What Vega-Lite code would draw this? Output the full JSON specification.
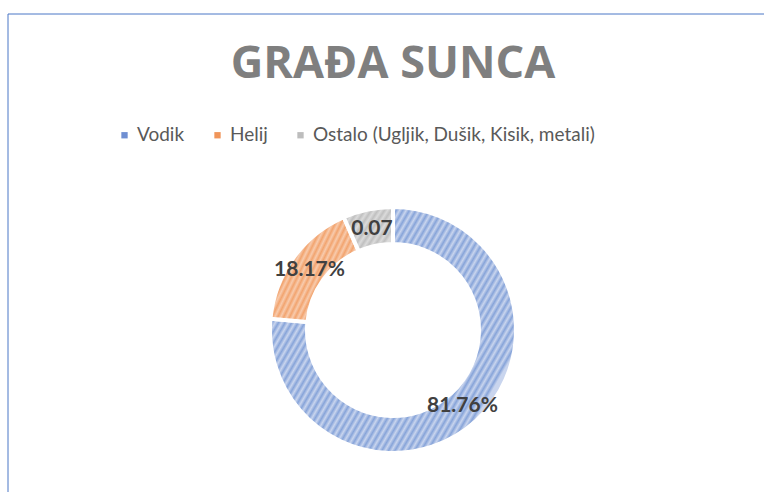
{
  "$schema": "https://vega.github.io/schema/vega-lite/v6.json",
  "width": 771,
  "height": 633,
  "autosize": {"type": "none"},
  "padding": {"left": 7.5, "top": 13.5, "right": -14.5, "bottom": -154.5},
  "background": "white",
  "view": {"stroke": "#4a76c6", "strokeWidth": 1},
  "title": {"text": "GRAĐA SUNCA", "font": "Open Sans", "fontSize": 45, "fontWeight": "bold", "color": "#7f7f7f", "anchor": "middle", "frame": "group", "offset": -66.5, "dy": 43, "baseline": "alphabetic"},
  "data": {"values": [
    {"category": "Vodik", "value": 0.8176, "label": "81.76%"},
    {"category": "Helij", "value": 0.1817, "label": "18.17%"},
    {"category": "Ostalo (Ugljik, Dušik, Kisik, metali)", "value": 0.07, "label": "0.07"}
  ]},
  "encoding": {
    "theta": {"field": "value", "type": "quantitative", "stack": true},
    "order": {"field": "value", "type": "quantitative", "sort": "descending"}
  },
  "layer": [
    {
      "mark": {"type": "arc", "outerRadius": 123, "innerRadius": 86, "stroke": "white", "strokeWidth": 4},
      "encoding": {
        "color": {"field": "category", "type": "nominal",
          "scale": {"domain": ["Vodik", "Helij", "Ostalo (Ugljik, Dušik, Kisik, metali)"], "range": ["#6f8fd2", "#f0955a", "#bdbdbd"]},
          "legend": {"orient": "none", "legendX": 107.5, "legendY": 112, "direction": "horizontal", "title": null, "symbolType": "square", "symbolSize": 40, "symbolStrokeWidth": 0, "labelFont": "Lato", "labelFontSize": 19, "labelColor": "#595959", "labelOffset": 3, "columnPadding": 23, "labelLimit": 0, "padding": 0}
        }
      }
    },
    {
      "mark": {"type": "arc", "outerRadius": 123, "innerRadius": 86, "stroke": "white", "strokeWidth": 4},
      "encoding": {
        "fill": {
          "condition": [
            {"test": "datum.category === 'Vodik'", "value": {"gradient": "linear", "x1": 0, "y1": 0, "x2": 1, "y2": 0.58, "stops": [
              {"offset": 0, "color": "#c9d5ee"}, {"offset": 0.01, "color": "#87a4d9"}, {"offset": 0.02, "color": "#c9d5ee"}, {"offset": 0.03, "color": "#87a4d9"}, {"offset": 0.04, "color": "#c9d5ee"}, {"offset": 0.05, "color": "#87a4d9"}, {"offset": 0.06, "color": "#c9d5ee"}, {"offset": 0.07, "color": "#87a4d9"}, {"offset": 0.08, "color": "#c9d5ee"}, {"offset": 0.09, "color": "#87a4d9"},
              {"offset": 0.1, "color": "#c9d5ee"}, {"offset": 0.11, "color": "#87a4d9"}, {"offset": 0.12, "color": "#c9d5ee"}, {"offset": 0.13, "color": "#87a4d9"}, {"offset": 0.14, "color": "#c9d5ee"}, {"offset": 0.15, "color": "#87a4d9"}, {"offset": 0.16, "color": "#c9d5ee"}, {"offset": 0.17, "color": "#87a4d9"}, {"offset": 0.18, "color": "#c9d5ee"}, {"offset": 0.19, "color": "#87a4d9"},
              {"offset": 0.2, "color": "#c9d5ee"}, {"offset": 0.21, "color": "#87a4d9"}, {"offset": 0.22, "color": "#c9d5ee"}, {"offset": 0.23, "color": "#87a4d9"}, {"offset": 0.24, "color": "#c9d5ee"}, {"offset": 0.25, "color": "#87a4d9"}, {"offset": 0.26, "color": "#c9d5ee"}, {"offset": 0.27, "color": "#87a4d9"}, {"offset": 0.28, "color": "#c9d5ee"}, {"offset": 0.29, "color": "#87a4d9"},
              {"offset": 0.3, "color": "#c9d5ee"}, {"offset": 0.31, "color": "#87a4d9"}, {"offset": 0.32, "color": "#c9d5ee"}, {"offset": 0.33, "color": "#87a4d9"}, {"offset": 0.34, "color": "#c9d5ee"}, {"offset": 0.35, "color": "#87a4d9"}, {"offset": 0.36, "color": "#c9d5ee"}, {"offset": 0.37, "color": "#87a4d9"}, {"offset": 0.38, "color": "#c9d5ee"}, {"offset": 0.39, "color": "#87a4d9"},
              {"offset": 0.4, "color": "#c9d5ee"}, {"offset": 0.41, "color": "#87a4d9"}, {"offset": 0.42, "color": "#c9d5ee"}, {"offset": 0.43, "color": "#87a4d9"}, {"offset": 0.44, "color": "#c9d5ee"}, {"offset": 0.45, "color": "#87a4d9"}, {"offset": 0.46, "color": "#c9d5ee"}, {"offset": 0.47, "color": "#87a4d9"}, {"offset": 0.48, "color": "#c9d5ee"}, {"offset": 0.49, "color": "#87a4d9"},
              {"offset": 0.5, "color": "#c9d5ee"}, {"offset": 0.51, "color": "#87a4d9"}, {"offset": 0.52, "color": "#c9d5ee"}, {"offset": 0.53, "color": "#87a4d9"}, {"offset": 0.54, "color": "#c9d5ee"}, {"offset": 0.55, "color": "#87a4d9"}, {"offset": 0.56, "color": "#c9d5ee"}, {"offset": 0.57, "color": "#87a4d9"}, {"offset": 0.58, "color": "#c9d5ee"}, {"offset": 0.59, "color": "#87a4d9"},
              {"offset": 0.6, "color": "#c9d5ee"}, {"offset": 0.61, "color": "#87a4d9"}, {"offset": 0.62, "color": "#c9d5ee"}, {"offset": 0.63, "color": "#87a4d9"}, {"offset": 0.64, "color": "#c9d5ee"}, {"offset": 0.65, "color": "#87a4d9"}, {"offset": 0.66, "color": "#c9d5ee"}, {"offset": 0.67, "color": "#87a4d9"}, {"offset": 0.68, "color": "#c9d5ee"}, {"offset": 0.69, "color": "#87a4d9"},
              {"offset": 0.7, "color": "#c9d5ee"}, {"offset": 0.71, "color": "#87a4d9"}, {"offset": 0.72, "color": "#c9d5ee"}, {"offset": 0.73, "color": "#87a4d9"}, {"offset": 0.74, "color": "#c9d5ee"}, {"offset": 0.75, "color": "#87a4d9"}, {"offset": 0.76, "color": "#c9d5ee"}, {"offset": 0.77, "color": "#87a4d9"}, {"offset": 0.78, "color": "#c9d5ee"}, {"offset": 0.79, "color": "#87a4d9"},
              {"offset": 0.8, "color": "#c9d5ee"}, {"offset": 0.81, "color": "#87a4d9"}, {"offset": 0.82, "color": "#c9d5ee"}, {"offset": 0.83, "color": "#87a4d9"}, {"offset": 0.84, "color": "#c9d5ee"}, {"offset": 0.85, "color": "#87a4d9"}, {"offset": 0.86, "color": "#c9d5ee"}, {"offset": 0.87, "color": "#87a4d9"}, {"offset": 0.88, "color": "#c9d5ee"}, {"offset": 0.89, "color": "#87a4d9"},
              {"offset": 0.9, "color": "#c9d5ee"}, {"offset": 0.91, "color": "#87a4d9"}, {"offset": 0.92, "color": "#c9d5ee"}, {"offset": 0.93, "color": "#87a4d9"}, {"offset": 0.94, "color": "#c9d5ee"}, {"offset": 0.95, "color": "#87a4d9"}, {"offset": 0.96, "color": "#c9d5ee"}, {"offset": 0.97, "color": "#87a4d9"}, {"offset": 0.98, "color": "#c9d5ee"}, {"offset": 0.99, "color": "#87a4d9"},
              {"offset": 1, "color": "#c9d5ee"}
            ]}},
            {"test": "datum.category === 'Helij'", "value": {"gradient": "linear", "x1": 0, "y1": 0, "x2": 1, "y2": 0.58, "stops": [
              {"offset": 0, "color": "#f8cbad"}, {"offset": 0.025, "color": "#f2a46f"}, {"offset": 0.05, "color": "#f8cbad"}, {"offset": 0.075, "color": "#f2a46f"}, {"offset": 0.1, "color": "#f8cbad"}, {"offset": 0.125, "color": "#f2a46f"}, {"offset": 0.15, "color": "#f8cbad"}, {"offset": 0.175, "color": "#f2a46f"},
              {"offset": 0.2, "color": "#f8cbad"}, {"offset": 0.225, "color": "#f2a46f"}, {"offset": 0.25, "color": "#f8cbad"}, {"offset": 0.275, "color": "#f2a46f"}, {"offset": 0.3, "color": "#f8cbad"}, {"offset": 0.325, "color": "#f2a46f"}, {"offset": 0.35, "color": "#f8cbad"}, {"offset": 0.375, "color": "#f2a46f"},
              {"offset": 0.4, "color": "#f8cbad"}, {"offset": 0.425, "color": "#f2a46f"}, {"offset": 0.45, "color": "#f8cbad"}, {"offset": 0.475, "color": "#f2a46f"}, {"offset": 0.5, "color": "#f8cbad"}, {"offset": 0.525, "color": "#f2a46f"}, {"offset": 0.55, "color": "#f8cbad"}, {"offset": 0.575, "color": "#f2a46f"},
              {"offset": 0.6, "color": "#f8cbad"}, {"offset": 0.625, "color": "#f2a46f"}, {"offset": 0.65, "color": "#f8cbad"}, {"offset": 0.675, "color": "#f2a46f"}, {"offset": 0.7, "color": "#f8cbad"}, {"offset": 0.725, "color": "#f2a46f"}, {"offset": 0.75, "color": "#f8cbad"}, {"offset": 0.775, "color": "#f2a46f"},
              {"offset": 0.8, "color": "#f8cbad"}, {"offset": 0.825, "color": "#f2a46f"}, {"offset": 0.85, "color": "#f8cbad"}, {"offset": 0.875, "color": "#f2a46f"}, {"offset": 0.9, "color": "#f8cbad"}, {"offset": 0.925, "color": "#f2a46f"}, {"offset": 0.95, "color": "#f8cbad"}, {"offset": 0.975, "color": "#f2a46f"},
              {"offset": 1, "color": "#f8cbad"}
            ]}}
          ],
          "value": {"gradient": "linear", "x1": 0, "y1": 0, "x2": 1, "y2": 0.58, "stops": [
            {"offset": 0, "color": "#dbdbdb"}, {"offset": 0.05, "color": "#c0c0c0"}, {"offset": 0.1, "color": "#dbdbdb"}, {"offset": 0.15, "color": "#c0c0c0"}, {"offset": 0.2, "color": "#dbdbdb"}, {"offset": 0.25, "color": "#c0c0c0"}, {"offset": 0.3, "color": "#dbdbdb"}, {"offset": 0.35, "color": "#c0c0c0"},
            {"offset": 0.4, "color": "#dbdbdb"}, {"offset": 0.45, "color": "#c0c0c0"}, {"offset": 0.5, "color": "#dbdbdb"}, {"offset": 0.55, "color": "#c0c0c0"}, {"offset": 0.6, "color": "#dbdbdb"}, {"offset": 0.65, "color": "#c0c0c0"}, {"offset": 0.7, "color": "#dbdbdb"}, {"offset": 0.75, "color": "#c0c0c0"},
            {"offset": 0.8, "color": "#dbdbdb"}, {"offset": 0.85, "color": "#c0c0c0"}, {"offset": 0.9, "color": "#dbdbdb"}, {"offset": 0.95, "color": "#c0c0c0"}, {"offset": 1, "color": "#dbdbdb"}
          ]}
        }
      }
    },
    {
      "mark": {"type": "text", "radius": 103, "font": "Lato", "fontWeight": "bold", "fontSize": 21, "color": "#404040"},
      "encoding": {"text": {"field": "label", "type": "nominal"}}
    }
  ]
}
